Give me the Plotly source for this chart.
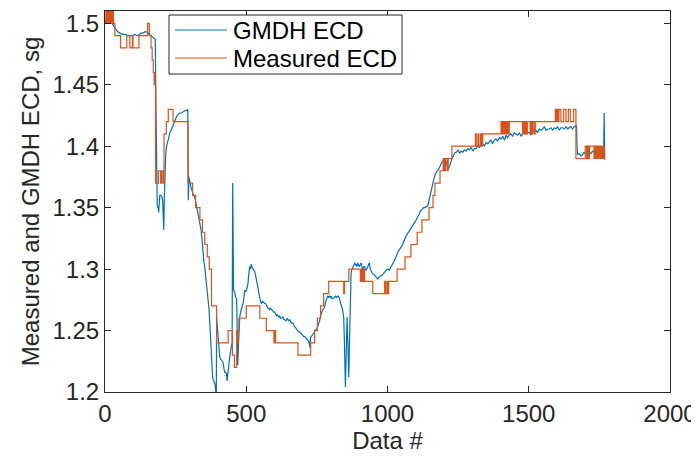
import plotly.graph_objects as go

# ---------------- data ----------------
# GMDH ECD (blue) : sample index and value
gmdh_x = [0, 4, 10, 18, 26, 32, 38, 45, 53, 62, 71, 80, 88, 97, 106, 112, 117, 122, 127, 134,
          141, 147, 152, 158, 163, 168, 173, 178, 181, 183, 185, 187, 189, 190, 192, 194, 198, 201, 204, 206,
          208, 210, 212, 215, 218, 223, 230, 236, 241, 247, 253, 259, 265, 271, 277, 283, 289, 293, 294, 295,
          297, 300, 305, 311, 318, 325, 330, 336, 340, 343, 347, 350, 353, 356, 359, 362, 365, 368, 371, 373,
          375, 378, 381, 383, 386, 389, 391, 393, 394, 395, 397, 400, 403, 406, 409, 412, 415, 418, 421, 424,
          427, 430, 432, 434, 436, 439, 442, 445, 448, 450, 452, 453, 455, 458, 460, 463, 466, 468, 470, 472,
          474, 477, 480, 483, 486, 489, 492, 495, 498, 501, 504, 506, 509, 512, 515, 518, 521, 524, 527, 530,
          533, 536, 539, 542, 545, 548, 551, 554, 557, 559, 562, 565, 568, 571, 574, 577, 580, 583, 586, 589,
          592, 595, 598, 601, 604, 607, 610, 612, 615, 618, 621, 624, 627, 630, 633, 636, 639, 642, 645, 648,
          651, 654, 657, 660, 663, 666, 669, 672, 675, 677, 680, 683, 686, 689, 692, 695, 698, 701, 704, 707,
          710, 713, 716, 719, 722, 724, 726, 727, 730, 733, 736, 739, 742, 745, 748, 751, 754, 757, 760, 763,
          766, 769, 772, 775, 777, 780, 783, 786, 789, 792, 795, 798, 801, 804, 807, 810, 813, 816, 819, 822,
          825, 828, 830, 833, 836, 840, 843, 845, 847, 848, 850, 851, 853, 855, 857, 859, 860, 862, 863, 865,
          866, 868, 869, 871, 873, 876, 878, 881, 884, 887, 890, 892, 895, 898, 901, 904, 907, 910, 913, 916,
          919, 922, 925, 928, 931, 933, 936, 939, 942, 945, 948, 951, 954, 957, 960, 963, 966, 969, 972, 975,
          978, 981, 984, 987, 990, 993, 996, 999, 1001, 1004, 1007, 1010, 1013, 1016, 1019, 1022, 1025, 1028, 1031, 1034,
          1037, 1040, 1043, 1046, 1048, 1051, 1054, 1057, 1060, 1063, 1066, 1069, 1072, 1075, 1078, 1081, 1084, 1087, 1090, 1093,
          1096, 1099, 1101, 1104, 1107, 1110, 1113, 1116, 1119, 1122, 1125, 1128, 1131, 1134, 1137, 1140, 1143, 1146, 1149, 1152,
          1154, 1157, 1160, 1163, 1166, 1169, 1172, 1175, 1178, 1181, 1184, 1187, 1190, 1193, 1196, 1199, 1202, 1205, 1208, 1211,
          1213, 1216, 1219, 1222, 1225, 1228, 1231, 1234, 1237, 1240, 1243, 1250, 1255, 1260, 1266, 1272, 1278, 1284, 1290, 1296,
          1302, 1308, 1313, 1319, 1325, 1331, 1337, 1343, 1349, 1355, 1360, 1366, 1372, 1378, 1384, 1390, 1396, 1402, 1408, 1414,
          1420, 1425, 1431, 1437, 1443, 1449, 1455, 1461, 1467, 1473, 1478, 1484, 1490, 1496, 1502, 1508, 1514, 1520, 1525, 1531,
          1537, 1543, 1549, 1555, 1561, 1567, 1573, 1579, 1585, 1590, 1596, 1602, 1608, 1614, 1620, 1626, 1632, 1638, 1643, 1649,
          1655, 1661, 1667, 1669, 1671, 1673, 1679, 1685, 1690, 1696, 1702, 1708, 1714, 1720, 1726, 1732, 1738, 1744, 1750, 1756,
          1762, 1765, 1767, 1769]
gmdh_y = [1.500, 1.503, 1.505, 1.502, 1.500, 1.497, 1.495, 1.493, 1.492, 1.491, 1.491, 1.490, 1.490, 1.490, 1.491, 1.490, 1.490, 1.491, 1.492, 1.492,
          1.493, 1.493, 1.492, 1.491, 1.490, 1.489, 1.488, 1.487, 1.420, 1.360, 1.352, 1.350, 1.349, 1.346, 1.355, 1.360, 1.360, 1.359, 1.356, 1.345,
          1.332, 1.358, 1.385, 1.393, 1.400, 1.405, 1.411, 1.414, 1.417, 1.421, 1.424, 1.426, 1.427, 1.427, 1.428, 1.429, 1.429, 1.430, 1.381, 1.356,
          1.375, 1.370, 1.366, 1.362, 1.358, 1.350, 1.344, 1.338, 1.332, 1.326, 1.312, 1.306, 1.302, 1.296, 1.290, 1.284, 1.278, 1.268, 1.256, 1.245,
          1.234, 1.218, 1.212, 1.210, 1.208, 1.207, 1.203, 1.199, 1.196, 1.261, 1.255, 1.240, 1.235, 1.229, 1.227, 1.226, 1.225, 1.224, 1.219, 1.216,
          1.216, 1.215, 1.209, 1.214, 1.220, 1.225, 1.229, 1.234, 1.237, 1.240, 1.370, 1.330, 1.283, 1.282, 1.278, 1.277, 1.276, 1.240, 1.222, 1.235,
          1.250, 1.261, 1.265, 1.269, 1.270, 1.272, 1.278, 1.283, 1.282, 1.283, 1.286, 1.288, 1.296, 1.302, 1.300, 1.304, 1.301, 1.300, 1.299, 1.298,
          1.295, 1.291, 1.287, 1.283, 1.279, 1.275, 1.273, 1.272, 1.274, 1.273, 1.273, 1.272, 1.272, 1.271, 1.269, 1.268, 1.268, 1.267, 1.268, 1.267,
          1.266, 1.266, 1.265, 1.265, 1.264, 1.262, 1.263, 1.262, 1.261, 1.262, 1.260, 1.260, 1.261, 1.261, 1.259, 1.259, 1.258, 1.258, 1.260, 1.259,
          1.258, 1.259, 1.257, 1.256, 1.256, 1.256, 1.254, 1.253, 1.252, 1.252, 1.250, 1.250, 1.249, 1.249, 1.248, 1.247, 1.247, 1.246, 1.245, 1.245,
          1.244, 1.244, 1.243, 1.242, 1.241, 1.238, 1.236, 1.244, 1.245, 1.245, 1.246, 1.247, 1.248, 1.249, 1.250, 1.252, 1.254, 1.256, 1.258, 1.262,
          1.265, 1.266, 1.267, 1.268, 1.269, 1.272, 1.275, 1.277, 1.278, 1.277, 1.278, 1.277, 1.278, 1.276, 1.276, 1.277, 1.278, 1.278, 1.277, 1.278,
          1.278, 1.277, 1.276, 1.273, 1.271, 1.268, 1.264, 1.261, 1.245, 1.237, 1.215, 1.204, 1.223, 1.245, 1.261, 1.245, 1.229, 1.218, 1.212, 1.235,
          1.250, 1.275, 1.291, 1.296, 1.299, 1.301, 1.302, 1.304, 1.305, 1.303, 1.304, 1.302, 1.305, 1.303, 1.302, 1.304, 1.305, 1.301, 1.300, 1.302,
          1.302, 1.300, 1.299, 1.301, 1.302, 1.304, 1.305, 1.300, 1.298, 1.297, 1.296, 1.296, 1.295, 1.294, 1.294, 1.293, 1.292, 1.293, 1.294, 1.294,
          1.295, 1.295, 1.296, 1.297, 1.298, 1.298, 1.299, 1.300, 1.300, 1.299, 1.299, 1.301, 1.302, 1.304, 1.305, 1.306, 1.307, 1.309, 1.310, 1.312,
          1.314, 1.315, 1.316, 1.317, 1.318, 1.319, 1.320, 1.322, 1.324, 1.326, 1.327, 1.328, 1.329, 1.331, 1.332, 1.333, 1.333, 1.334, 1.335, 1.336,
          1.337, 1.339, 1.340, 1.341, 1.342, 1.344, 1.345, 1.347, 1.348, 1.349, 1.349, 1.350, 1.350, 1.350, 1.351, 1.351, 1.352, 1.355, 1.358, 1.361,
          1.364, 1.367, 1.371, 1.373, 1.375, 1.377, 1.379, 1.380, 1.380, 1.381, 1.382, 1.384, 1.386, 1.387, 1.387, 1.388, 1.389, 1.388, 1.387, 1.384,
          1.383, 1.382, 1.383, 1.386, 1.389, 1.390, 1.391, 1.393, 1.394, 1.395, 1.395, 1.397, 1.394, 1.396, 1.395, 1.397, 1.396, 1.398, 1.397, 1.399,
          1.396, 1.398, 1.398, 1.400, 1.399, 1.401, 1.402, 1.400, 1.403, 1.402, 1.403, 1.405, 1.402, 1.405, 1.406, 1.404, 1.407, 1.406, 1.408, 1.405,
          1.409, 1.407, 1.409, 1.410, 1.408, 1.411, 1.410, 1.409, 1.411, 1.408, 1.410, 1.412, 1.410, 1.411, 1.411, 1.409, 1.412, 1.413, 1.413, 1.411,
          1.414, 1.413, 1.414, 1.416, 1.413, 1.414, 1.414, 1.415, 1.413, 1.415, 1.414, 1.416, 1.413, 1.415, 1.415, 1.414, 1.416, 1.414, 1.415, 1.416,
          1.414, 1.416, 1.416, 1.417, 1.400, 1.393, 1.394, 1.392, 1.393, 1.395, 1.394, 1.396, 1.395, 1.394, 1.396, 1.395, 1.393, 1.395, 1.392, 1.391,
          1.391, 1.392, 1.427, 1.389]

# Measured ECD (orange) : index where each step starts and its value
meas_x = [0, 3, 7, 10, 14, 18, 22, 26, 30, 35, 55, 77, 88, 97, 99, 120, 151, 157, 163, 167,
          171, 174, 176, 177, 179, 189, 197, 200, 205, 209, 217, 224, 241, 294, 310, 321, 336, 345, 353, 362,
          369, 377, 395, 436, 451, 458, 466, 469, 471, 474, 500, 548, 571, 598, 600, 604, 683, 728, 742, 752,
          763, 774, 792, 845, 848, 863, 904, 908, 912, 916, 919, 948, 990, 993, 998, 1001, 1004, 1034, 1062, 1083,
          1105, 1122, 1147, 1161, 1168, 1186, 1197, 1201, 1205, 1211, 1215, 1228, 1311, 1314, 1320, 1323, 1329, 1333, 1337, 1402,
          1406, 1409, 1413, 1416, 1420, 1424, 1428, 1431, 1478, 1481, 1485, 1488, 1492, 1495, 1505, 1508, 1512, 1515, 1520, 1523,
          1594, 1597, 1600, 1604, 1607, 1614, 1624, 1632, 1640, 1647, 1659, 1667, 1700, 1705, 1708, 1712, 1715, 1731, 1734, 1737,
          1740, 1744, 1747, 1751, 1755, 1759, 1763, 1767, 1770]
meas_y = [1.50, 1.51, 1.50, 1.51, 1.50, 1.51, 1.50, 1.51, 1.50, 1.49, 1.48, 1.49, 1.48, 1.49, 1.48, 1.49, 1.50, 1.49, 1.48, 1.47,
          1.46, 1.45, 1.46, 1.45, 1.37, 1.38, 1.37, 1.38, 1.37, 1.41, 1.42, 1.43, 1.42, 1.37, 1.36, 1.35, 1.34, 1.33, 1.32, 1.31,
          1.30, 1.27, 1.24, 1.25, 1.23, 1.22, 1.25, 1.24, 1.25, 1.26, 1.27, 1.26, 1.25, 1.24, 1.25, 1.24, 1.23, 1.24, 1.25, 1.26,
          1.27, 1.28, 1.29, 1.28, 1.29, 1.30, 1.29, 1.30, 1.29, 1.30, 1.29, 1.28, 1.29, 1.28, 1.29, 1.28, 1.29, 1.30, 1.31, 1.32,
          1.33, 1.34, 1.35, 1.36, 1.37, 1.38, 1.39, 1.38, 1.39, 1.38, 1.39, 1.40, 1.41, 1.40, 1.41, 1.40, 1.41, 1.40, 1.41, 1.42,
          1.41, 1.42, 1.41, 1.42, 1.41, 1.42, 1.41, 1.42, 1.41, 1.42, 1.41, 1.42, 1.41, 1.42, 1.41, 1.42, 1.41, 1.42, 1.41, 1.42,
          1.43, 1.42, 1.43, 1.42, 1.43, 1.42, 1.43, 1.42, 1.43, 1.42, 1.43, 1.39, 1.40, 1.39, 1.40, 1.39, 1.40, 1.39, 1.40, 1.39,
          1.40, 1.39, 1.40, 1.39, 1.40, 1.39, 1.40, 1.39, 1.39]

series_names = ["GMDH ECD", "Measured ECD"]
series_colors = ["#0072BD", "#D95319"]

x_ticks = [0, 500, 1000, 1500, 2000]
y_ticks = [1.2, 1.25, 1.3, 1.35, 1.4, 1.45, 1.5]
y_tick_text = ["1.2", "1.25", "1.3", "1.35", "1.4", "1.45", "1.5"]

# ---------------- figure ----------------
FONT = "Liberation Sans, Arial, Helvetica, sans-serif"
INK = "#262626"
FS = 24
LW = 1.2

fig = go.Figure()
fig.add_trace(go.Scatter(x=gmdh_x, y=gmdh_y, mode="lines", name=series_names[0],
                         line=dict(color=series_colors[0], width=LW), showlegend=False))
fig.add_trace(go.Scatter(x=meas_x, y=meas_y, mode="lines", name=series_names[1],
                         line=dict(color=series_colors[1], width=LW, shape="hv"), showlegend=False))

axis_common = dict(showline=True, linecolor=INK, linewidth=1, mirror="ticks",
                   ticks="inside", ticklen=6, tickcolor=INK, tickwidth=1,
                   showgrid=False, zeroline=False,
                   tickfont=dict(family=FONT, size=FS, color=INK))

fig.update_xaxes(range=[0, 2000], tickvals=x_ticks,
                 title=dict(text="Data #", font=dict(family=FONT, size=FS, color=INK), standoff=4),
                 **axis_common)
fig.update_yaxes(range=[1.2, 1.51], tickvals=y_ticks, ticktext=y_tick_text,
                 title=dict(text="Measured and GMDH ECD, sg", font=dict(family=FONT, size=FS, color=INK), standoff=6),
                 **axis_common)

# compact boxed legend (MATLAB style) in paper coordinates of the plot area
box_x0, box_x1, box_y0, box_y1 = 0.1133, 0.5257, 0.8346, 0.9895
key_x0, key_x1, text_x = 0.1239, 0.2159, 0.2230
row_y = [0.9501, 0.8766]
fig.add_shape(type="rect", xref="paper", yref="paper", x0=box_x0, x1=box_x1, y0=box_y0, y1=box_y1,
              line=dict(color=INK, width=1), fillcolor="white", layer="above")
for name, color, ry in zip(series_names, series_colors, row_y):
    fig.add_shape(type="line", xref="paper", yref="paper", x0=key_x0, x1=key_x1, y0=ry, y1=ry,
                  line=dict(color=color, width=LW), layer="above")
    fig.add_annotation(xref="paper", yref="paper", x=text_x, y=ry, text=name, showarrow=False,
                       xanchor="left", yanchor="middle",
                       font=dict(family=FONT, size=FS, color="black"))

# the page adds an 8 px body margin, so the figure is 8 px smaller on each side
fig.update_layout(
    width=691, height=452,
    margin=dict(l=97, r=29, t=3, b=68, autoexpand=False),
    paper_bgcolor="white", plot_bgcolor="white",
    font=dict(family=FONT, size=FS, color=INK),
    showlegend=False,
)

fig.write_html("out.html")
